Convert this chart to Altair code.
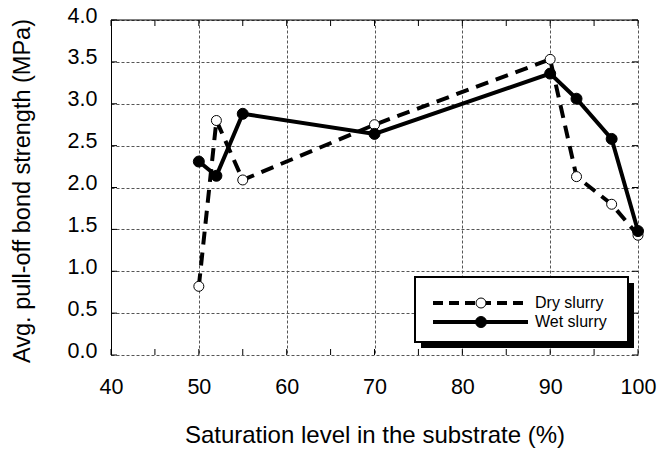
import altair as alt
import pandas as pd

# ---- data ----
saturation = [50, 52, 55, 70, 90, 93, 97, 100]
dry_slurry = [0.82, 2.80, 2.09, 2.75, 3.53, 2.13, 1.80, 1.43]
wet_slurry = [2.31, 2.14, 2.88, 2.64, 3.36, 3.06, 2.58, 1.48]
series_names = ["Dry slurry", "Wet slurry"]
x_ticks = [40, 50, 60, 70, 80, 90, 100]
x_minor_ticks = [40, 45, 50, 55, 60, 65, 70, 75, 80, 85, 90, 95, 100]
y_ticks = [0.0, 0.5, 1.0, 1.5, 2.0, 2.5, 3.0, 3.5, 4.0]
x_title = "Saturation level in the substrate (%)"
y_title = "Avg. pull-off bond strength (MPa)"

W, H = 527, 335
FONT = "Liberation Sans"

df = pd.DataFrame({
    "x": saturation + saturation,
    "y": dry_slurry + wet_slurry,
    "series": [series_names[0]] * len(saturation) + [series_names[1]] * len(saturation),
})

xscale = alt.Scale(domain=[40, 100], nice=False, zero=False)
yscale = alt.Scale(domain=[0, 4], nice=False, zero=True)

xaxis = alt.Axis(values=x_ticks, format="d", grid=True, gridDash=[3, 2], gridColor="#555555",
                 gridWidth=1, domain=False, ticks=False, labelFont=FONT, labelFontSize=21.5,
                 labelColor="black", labelPadding=21, labelFlush=False, labelOverlap=False,
                 title=x_title, titleFont=FONT, titleLimit=1000,
                 titleFontSize=24, titleFontWeight="normal", titleColor="black",
                 titleBaseline="alphabetic", titleY=87)
yaxis = alt.Axis(values=y_ticks, format=".1f", grid=True, gridDash=[3, 2], gridColor="#555555",
                 gridWidth=1, domain=True, domainColor="black", domainWidth=1, ticks=False,
                 labelFont=FONT, labelFontSize=21.5, labelColor="black", labelPadding=14,
                 labelFlush=False, labelOverlap=False,
                 labelOffset=-4, title=y_title, titleFont=FONT, titleFontSize=23.5, titleLimit=1000,
                 titleFontWeight="normal", titleColor="black", titleX=-89, titleY=H / 2 + 3,
                 titleBaseline="middle", titleAngle=270)


def X(field):
    return alt.X(field, type="quantitative", scale=xscale, axis=xaxis)


def Y(field):
    return alt.Y(field, type="quantitative", scale=yscale, axis=yaxis)


base = alt.Chart(df)

dry_line = base.transform_filter(alt.datum.series == series_names[0]).mark_line(
    color="black", strokeWidth=4, strokeDash=[13, 8]).encode(x=X("x"), y=Y("y"))
wet_line = base.transform_filter(alt.datum.series == series_names[1]).mark_line(
    color="black", strokeWidth=4).encode(x=X("x"), y=Y("y"))
dry_pts = base.transform_filter(alt.datum.series == series_names[0]).mark_point(
    shape="circle", filled=True, fill="white", stroke="black", strokeWidth=1, size=100,
    opacity=1).encode(x=X("x"), y=Y("y"))
wet_pts = base.transform_filter(alt.datum.series == series_names[1]).mark_point(
    shape="circle", filled=True, fill="black", stroke="black", strokeWidth=1, size=121,
    opacity=1).encode(x=X("x"), y=Y("y"))

# inward ticks
xt = alt.Chart(pd.DataFrame({"t": x_minor_ticks}))
yt = alt.Chart(pd.DataFrame({"t": y_ticks}))
ticks_top = xt.mark_rule(color="black", strokeWidth=1).encode(x=X("t"), y=alt.value(0), y2=alt.value(6))
ticks_bot = xt.mark_rule(color="black", strokeWidth=1).encode(x=X("t"), y=alt.value(H - 6), y2=alt.value(H))
ticks_left = yt.mark_rule(color="black", strokeWidth=1).encode(y=Y("t"), x=alt.value(0), x2=alt.value(6))
ticks_right = yt.mark_rule(color="black", strokeWidth=1).encode(y=Y("t"), x=alt.value(W - 6), x2=alt.value(W))

one = alt.Chart(pd.DataFrame({"a": [0]}))
top_border = one.mark_rule(color="black", strokeWidth=1).encode(
    x=alt.value(0), x2=alt.value(W), y=alt.value(0))

# legend box
LX0, LX1, LY0, LY1 = 304, 517, 257, 322
SH = 6
shadow = one.mark_rect(color="black").encode(
    x=alt.value(LX0 + SH), x2=alt.value(LX1 + SH), y=alt.value(LY0 + SH), y2=alt.value(LY1 + SH))
box = one.mark_rect(fill="white", stroke="black", strokeWidth=2).encode(
    x=alt.value(LX0), x2=alt.value(LX1), y=alt.value(LY0), y2=alt.value(LY1))
R1, R2 = 283, 302
lg_dry_line = one.mark_rule(color="black", strokeWidth=4, strokeDash=[10, 6]).encode(
    x=alt.value(322), x2=alt.value(417), y=alt.value(R1))
lg_wet_line = one.mark_rule(color="black", strokeWidth=4).encode(
    x=alt.value(322), x2=alt.value(417), y=alt.value(R2))
lg_dry_pt = one.mark_point(shape="circle", filled=True, fill="white", stroke="black",
                           strokeWidth=1, size=100, opacity=1).encode(x=alt.value(370), y=alt.value(R1))
lg_wet_pt = one.mark_point(shape="circle", filled=True, fill="black", stroke="black",
                           strokeWidth=1, size=121, opacity=1).encode(x=alt.value(370), y=alt.value(R2))
lg_dry_txt = one.mark_text(text=series_names[0], font=FONT, fontSize=16, align="left",
                           baseline="middle", color="black").encode(x=alt.value(424), y=alt.value(R1))
lg_wet_txt = one.mark_text(text=series_names[1], font=FONT, fontSize=16, align="left",
                           baseline="middle", color="black").encode(x=alt.value(424), y=alt.value(R2))

chart = alt.layer(
    dry_line, wet_line, dry_pts, wet_pts,
    ticks_top, ticks_bot, ticks_left, ticks_right, top_border,
    shadow, box, lg_dry_line, lg_wet_line, lg_dry_pt, lg_wet_pt, lg_dry_txt, lg_wet_txt,
).properties(
    width=W, height=H,
    autosize=alt.AutoSizeParams(type="none"),
    padding={"left": 111, "top": 20, "right": 20, "bottom": 95},
    background="white",
).configure_view(stroke=None)

chart.save("out.html", embed_options={"renderer": "svg", "actions": False})
